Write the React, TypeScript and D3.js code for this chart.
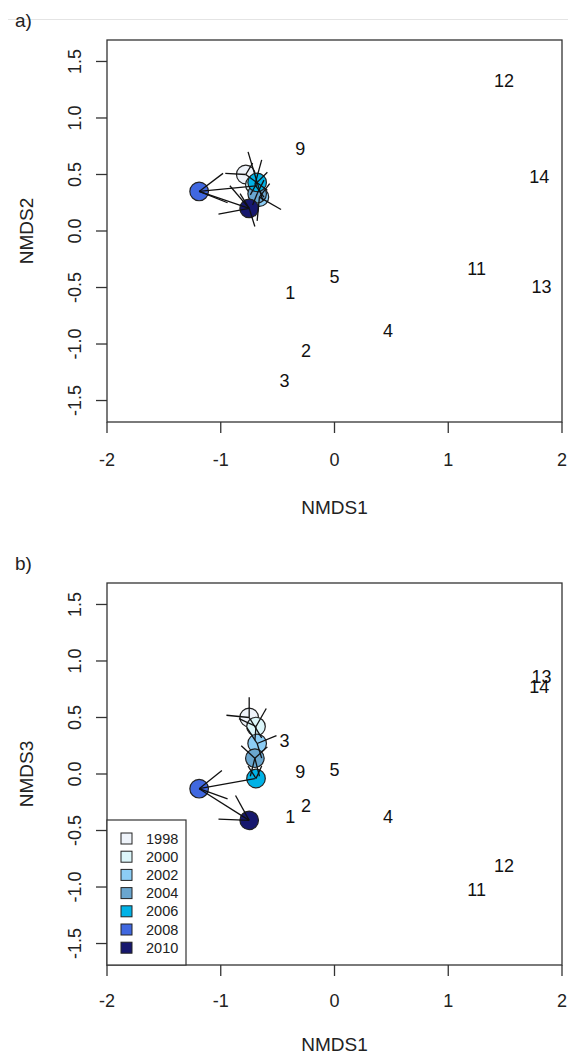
import React from "react";
import * as d3 from "d3";

const years = ["1998", "2000", "2002", "2004", "2006", "2008", "2010"];
const yearColors = ["#eef3fa", "#dcf6fa", "#8ccdf5", "#6aa6cf", "#00b2e6", "#4068e0", "#17186e"];

// Panel a: NMDS1 vs NMDS2
const sitesA: [string, number, number][] = [
  ["12", 1.49, 1.33], ["9", -0.3, 0.73], ["14", 1.8, 0.48], ["11", 1.25, -0.33],
  ["5", 0.0, -0.4], ["13", 1.82, -0.49], ["1", -0.39, -0.54], ["4", 0.47, -0.88],
  ["2", -0.25, -1.06], ["3", -0.44, -1.32],
];
const centroidsA: [number, number][] = [
  [-0.78, 0.5], [-0.7, 0.41], [-0.66, 0.3], [-0.68, 0.33], [-0.68, 0.43], [-1.19, 0.35], [-0.75, 0.2],
];
const spiderA: [number, number][][] = [
  [[-0.96, 0.51], [-0.59, 0.36], [-0.72, 0.6]],
  [[-0.64, 0.63], [-0.62, 0.3]],
  [[-0.47, 0.19], [-0.57, 0.42], [-0.68, 0.09]],
  [[-0.62, 0.45], [-0.72, 0.23]],
  [[-0.76, 0.7], [-0.59, 0.52], [-0.63, 0.27], [-0.74, 0.32]],
  [[-0.98, 0.51], [-0.68, 0.4], [-0.94, 0.25], [-0.75, 0.2]],
  [[-1.02, 0.15], [-0.92, 0.4], [-0.7, 0.04], [-0.83, 0.33]],
];

// Panel b: NMDS1 vs NMDS3
const sitesB: [string, number, number][] = [
  ["13", 1.82, 0.86], ["14", 1.8, 0.77], ["3", -0.44, 0.3], ["9", -0.3, 0.02],
  ["5", 0.0, 0.04], ["2", -0.25, -0.28], ["1", -0.39, -0.38], ["4", 0.47, -0.38],
  ["12", 1.49, -0.81], ["11", 1.25, -1.02],
];
const centroidsB: [number, number][] = [
  [-0.75, 0.5], [-0.69, 0.42], [-0.68, 0.27], [-0.7, 0.14], [-0.69, -0.04], [-1.19, -0.13], [-0.75, -0.41],
];
const spiderB: [number, number][][] = [
  [[-0.75, 0.68], [-0.95, 0.52], [-0.64, 0.32]],
  [[-0.6, 0.58], [-0.84, 0.49], [-0.7, 0.3]],
  [[-0.51, 0.34], [-0.77, 0.41], [-0.64, 0.14]],
  [[-0.82, 0.25], [-0.59, 0.24], [-0.74, -0.02], [-0.66, -0.02]],
  [[-0.76, 0.07], [-0.64, 0.07]],
  [[-0.99, 0.03], [-0.7, -0.04], [-0.94, -0.22], [-0.75, -0.41]],
  [[-1.02, -0.4], [-0.87, -0.19]],
];

const xTicks = [-2, -1, 0, 1, 2];
const yTicks = [-1.5, -1.0, -0.5, 0.0, 0.5, 1.0, 1.5];

const FONT = "Liberation Sans, Arial, sans-serif";
const x = d3.scaleLinear().domain([-2, 2]).range([107, 562]);

function Panel({ top, label, ylab, sites, centroids, spider, legend, tickOff, xlabOff }: any) {
  const bottom = top + 382;
  const y = d3.scaleLinear().domain([-1.69, 1.69]).range([bottom, top]);
  const left = x.range()[0];
  const right = x.range()[1];
  return (
    <g>
      <text x={15} y={top - 13} fontSize={19} fontFamily={FONT} fill="#222">{label}</text>
      <rect x={left} y={top} width={right - left} height={bottom - top} fill="none" stroke="#333" strokeWidth={1.3} />
      {xTicks.map((t) => (
        <g key={"x" + t}>
          <line x1={x(t)} x2={x(t)} y1={bottom} y2={bottom + 11} stroke="#333" strokeWidth={1.3} />
          <text x={x(t)} y={bottom + tickOff} textAnchor="middle" fontSize={18} fontFamily={FONT} fill="#222">{t}</text>
        </g>
      ))}
      {yTicks.map((t) => (
        <g key={"y" + t}>
          <line x1={left - 11} x2={left} y1={y(t)} y2={y(t)} stroke="#333" strokeWidth={1.3} />
          <text transform={`translate(${left - 26},${y(t)}) rotate(-90)`} textAnchor="middle" fontSize={18} fontFamily={FONT} fill="#222">{t.toFixed(1)}</text>
        </g>
      ))}
      <text x={(left + right) / 2} y={bottom + xlabOff} textAnchor="middle" fontSize={19} fontFamily={FONT} fill="#222">NMDS1</text>
      <text transform={`translate(${33},${(top + bottom) / 2}) rotate(-90)`} textAnchor="middle" fontSize={19} fontFamily={FONT} fill="#222">{ylab}</text>
      {sites.map((s: any) => (
        <text key={"s" + s[0]} x={x(s[1])} y={y(s[2]) + 6.5} textAnchor="middle" fontSize={18} fontFamily={FONT} fill="#111">{s[0]}</text>
      ))}
      {centroids.map((c: any, i: number) => (
        <circle key={"c" + i} cx={x(c[0])} cy={y(c[1])} r={9.3} fill={yearColors[i]} stroke="#222" strokeWidth={1.2} />
      ))}
      {spider.map((ends: any, i: number) =>
        ends.map((e: any, j: number) => (
          <line key={"l" + i + "-" + j} x1={x(centroids[i][0])} y1={y(centroids[i][1])} x2={x(e[0])} y2={y(e[1])} stroke="#111" strokeWidth={1.3} />
        ))
      )}
      {legend && (
        <g>
          <rect x={left} y={bottom - 145} width={79} height={145} fill="#fff" stroke="#333" strokeWidth={1.2} />
          {years.map((yr, i) => (
            <g key={yr}>
              <rect x={121} y={bottom - 132 + i * 18.2} width={11} height={11} fill={yearColors[i]} stroke="#222" strokeWidth={1} />
              <text x={146} y={bottom - 121.5 + i * 18.2} fontSize={14.5} fontFamily={FONT} fill="#222">{yr}</text>
            </g>
          ))}
        </g>
      )}
    </g>
  );
}

export default function App() {
  return (
    <svg width={568} height={1058} style={{ position: "absolute", left: 0, top: 0, background: "#fff" }}>
      <rect x={0} y={0} width={568} height={1058} fill="#fff" />
      <line x1={8} x2={568} y1={19.5} y2={19.5} stroke="#e4e4e4" strokeWidth={1} />
      <Panel top={40} label="a)" ylab="NMDS2" sites={sitesA} centroids={centroidsA} spider={spiderA} legend={false} tickOff={44} xlabOff={92} />
      <Panel top={583} label="b)" ylab="NMDS3" sites={sitesB} centroids={centroidsB} spider={spiderB} legend={true} tickOff={42} xlabOff={86} />
    </svg>
  );
}
